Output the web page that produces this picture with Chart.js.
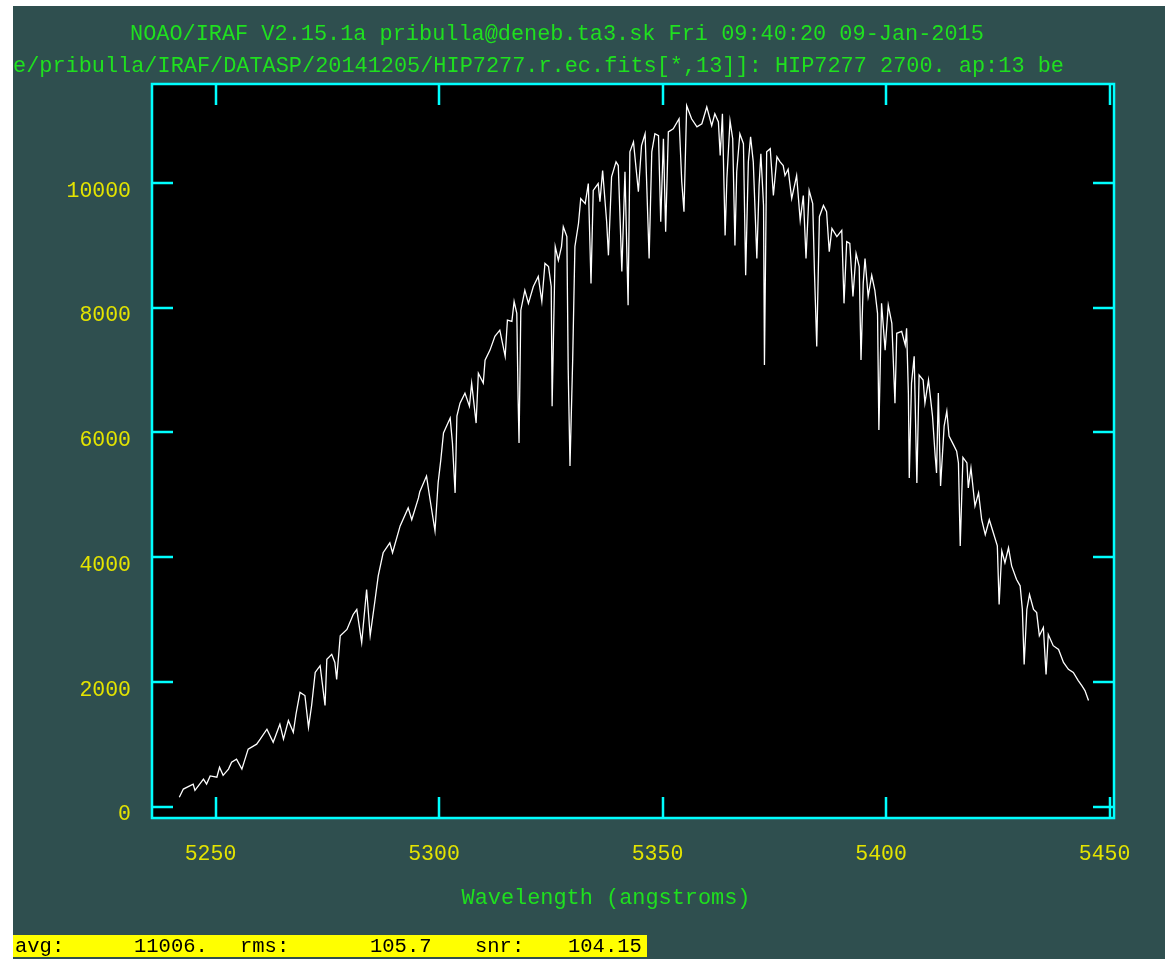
<!DOCTYPE html>
<html><head><meta charset="utf-8">
<script src="https://cdn.jsdelivr.net/npm/chart.js@4/dist/chart.umd.min.js"></script>
<style>html,body{margin:0;padding:0;background:#fff;overflow:hidden}canvas{display:block}</style>
</head><body>
<canvas id="c" width="1165" height="959"></canvas>
<script>
const wavelengths = [
5241.9,5242.8,5245.0,5245.4,5247.3,5248.0,5248.8,5250.3,5250.9,5251.7,
5252.9,5253.6,5254.7,5255.9,5257.3,5259.2,5260.0,5261.5,5262.9,5264.4,
5265.2,5266.3,5267.4,5268.0,5268.9,5270.0,5270.8,5271.5,5272.3,5273.4,
5274.5,5274.9,5276.0,5276.7,5277.1,5277.9,5279.4,5280.8,5281.6,5282.7,
5283.8,5284.6,5285.7,5286.4,5287.5,5289.0,5289.6,5291.3,5293.1,5293.9,
5295.4,5295.7,5297.2,5298.0,5299.1,5299.8,5300.4,5301.0,5302.5,5303.0,
5303.6,5304.0,5304.7,5305.8,5306.8,5307.3,5308.3,5308.8,5309.9,5310.3,
5311.4,5312.5,5313.6,5314.8,5315.3,5316.3,5316.8,5317.4,5317.7,5317.9,
5318.3,5319.2,5320.0,5321.1,5322.2,5323.0,5323.7,5324.5,5325.1,5325.3,
5326.0,5326.7,5327.4,5327.8,5328.6,5328.9,5329.3,5329.9,5330.4,5331.2,
5331.7,5332.7,5333.4,5334.0,5334.5,5335.6,5336.0,5336.6,5337.5,5337.9,
5338.6,5339.6,5340.1,5340.9,5341.6,5342.3,5342.7,5343.5,5344.6,5345.3,
5346.1,5347.0,5347.6,5348.3,5349.1,5349.6,5350.2,5350.7,5351.3,5352.4,
5353.7,5354.3,5354.8,5355.4,5356.5,5357.7,5358.8,5359.9,5361.0,5361.7,
5362.5,5362.9,5363.4,5364.0,5364.4,5365.1,5365.7,5366.2,5366.6,5367.3,
5368.1,5368.6,5369.2,5369.7,5370.3,5371.1,5371.6,5372.0,5372.6,5372.8,
5373.3,5374.1,5374.8,5375.6,5376.3,5377.0,5377.4,5378.1,5378.9,5380.0,
5380.8,5381.5,5382.1,5382.8,5383.6,5384.0,5384.5,5385.1,5386.0,5386.7,
5387.3,5387.9,5389.0,5390.1,5390.6,5391.2,5391.9,5392.6,5393.3,5394.0,
5394.4,5394.9,5395.3,5396.0,5396.8,5397.5,5398.1,5398.4,5399.0,5399.8,
5400.5,5401.3,5402.0,5402.4,5403.5,5404.3,5404.6,5405.0,5405.2,5405.7,
5406.3,5406.9,5407.4,5408.3,5408.7,5409.5,5410.4,5411.0,5411.3,5411.7,
5412.2,5413.0,5413.6,5414.1,5415.1,5415.8,5416.2,5416.6,5417.2,5418.1,
5418.4,5419.0,5419.9,5420.7,5421.4,5422.2,5423.1,5424.0,5424.9,5425.3,
5425.9,5426.6,5427.4,5428.1,5429.2,5430.0,5430.5,5430.9,5431.5,5432.1,
5433.0,5433.7,5434.3,5435.2,5435.8,5436.3,5437.4,5438.6,5439.7,5440.8,
5441.9,5443.0,5443.8,5444.5,5445.3
];
const fluxes = [
150,280,360,260,440,360,490,470,630,500,
600,710,760,600,920,1000,1080,1240,1030,1320,
1080,1380,1190,1480,1830,1780,1270,1620,2150,2260,
1620,2360,2440,2310,2040,2740,2840,3080,3160,2630,
3480,2740,3320,3700,4070,4230,4070,4500,4790,4600,
4950,5050,5300,4920,4420,5190,5560,5990,6230,5830,
5030,6260,6470,6630,6420,6790,6150,6950,6790,7160,
7320,7540,7640,7220,7800,7780,8100,7910,6520,5830,
7960,8280,8070,8340,8500,8100,8710,8660,8340,6420,
8980,8760,8980,9300,9140,7000,5460,7160,8980,9350,
9750,9670,9990,8390,9880,9990,9700,10200,9380,8840,
10100,10340,10280,8580,10180,8040,10500,10660,9860,10600,
10790,8790,10500,10790,10760,9380,10710,9220,10820,10870,
11030,10020,9540,11240,11030,10900,10950,11220,10920,11110,
10980,10440,11110,9160,10070,11000,10710,9000,10180,10790,
10630,8520,10340,10740,10340,8790,9960,10470,9640,7080,
10500,10550,9800,10420,10340,10280,10120,10220,9750,10120,
9400,9800,8790,9880,9670,8550,7380,9460,9640,9540,
8900,9270,9140,9240,8070,9060,9030,8180,8870,8660,
7160,8390,8790,8180,8520,8280,7910,6040,8070,7320,
8040,7750,6470,7590,7620,7400,7670,6630,5270,6790,
7220,5190,6920,6840,6470,6840,6260,5620,5350,6630,
5140,6100,6340,5940,5800,5700,5510,4180,5600,5510,
5110,5430,4820,5030,4600,4360,4600,4390,4180,3240,
4100,3910,4150,3860,3640,3540,3160,2280,3160,3400,
3160,3110,2740,2870,2120,2760,2580,2520,2310,2200,
2150,2020,1940,1860,1700
];
const xTicks = [5250, 5300, 5350, 5400, 5450];
const yTicks = [0, 2000, 4000, 6000, 8000, 10000];
const titleLines = [
  "NOAO/IRAF V2.15.1a pribulla@deneb.ta3.sk Fri 09:40:20 09-Jan-2015",
  "e/pribulla/IRAF/DATASP/20141205/HIP7277.r.ec.fits[*,13]]: HIP7277 2700. ap:13 be"
];
const xAxisTitle = "Wavelength (angstroms)";
const statusLabels = ["avg:", "rms:", "snr:"];
const statusValues = ["11006.", "105.7", "104.15"];

const MONO = "'Liberation Mono', 'DejaVu Sans Mono', monospace";
const CYAN = '#00ffff', GREEN = '#1fe01f', YELLOW = '#e4e400', BG = '#2f4f4f';

const bgPlugin = {
  id: 'irafBg',
  beforeDraw(chart) {
    const ctx = chart.ctx, a = chart.chartArea;
    ctx.save();
    ctx.fillStyle = '#ffffff';
    ctx.fillRect(0, 0, chart.width, chart.height);
    ctx.fillStyle = BG;
    ctx.fillRect(13, 6, chart.width - 13, chart.height - 6);
    ctx.fillStyle = '#000000';
    ctx.fillRect(a.left, a.top, a.right - a.left, a.bottom - a.top);
    ctx.restore();
  }
};

const framePlugin = {
  id: 'irafFrame',
  afterDatasetsDraw(chart) {
    const ctx = chart.ctx, a = chart.chartArea;
    const xs = chart.scales.x, ys = chart.scales.y;
    const TL = 21;
    ctx.save();
    ctx.strokeStyle = CYAN;
    ctx.lineWidth = 2.5;
    ctx.strokeRect(a.left, a.top, a.right - a.left, a.bottom - a.top);
    ctx.beginPath();
    xs.ticks.forEach(t => {
      const px = Math.round(xs.getPixelForValue(t.value));
      ctx.moveTo(px, a.bottom); ctx.lineTo(px, a.bottom - TL);
      ctx.moveTo(px, a.top); ctx.lineTo(px, a.top + TL);
    });
    ys.ticks.forEach(t => {
      const py = Math.round(ys.getPixelForValue(t.value));
      ctx.moveTo(a.left, py); ctx.lineTo(a.left + TL, py);
      ctx.moveTo(a.right, py); ctx.lineTo(a.right - TL, py);
    });
    ctx.stroke();
    ctx.restore();
  }
};

const textPlugin = {
  id: 'irafText',
  afterDraw(chart) {
    const ctx = chart.ctx;
    ctx.save();
    ctx.font = "21.9px " + MONO;
    ctx.fillStyle = GREEN;
    ctx.textBaseline = 'middle';
    ctx.textAlign = 'left';
    ctx.fillText(titleLines[0], 130, 34);
    ctx.fillText(titleLines[1], 13, 66);
    ctx.textAlign = 'center';
    ctx.fillText(xAxisTitle, 606, 898);
    // status bar
    ctx.fillStyle = '#ffff00';
    ctx.fillRect(13, 935, 634, 22);
    ctx.fillStyle = '#000000';
    ctx.font = "20.5px " + MONO;
    ctx.textAlign = 'left';
    const lx = [15, 240, 475], vx = [134, 370, 568];
    statusLabels.forEach((s, i) => ctx.fillText(s, lx[i], 947));
    statusValues.forEach((s, i) => ctx.fillText(s, vx[i], 947));
    ctx.restore();
  }
};

new Chart(document.getElementById('c'), {
  type: 'line',
  data: {
    datasets: [{
      data: wavelengths.map((w, i) => ({ x: w, y: fluxes[i] })),
      borderColor: '#ffffff',
      borderWidth: 1.3,
      pointRadius: 0,
      tension: 0,
      fill: false
    }]
  },
  options: {
    responsive: false,
    animation: false,
    devicePixelRatio: 1,
    layout: { padding: { left: 0, top: 84, right: 51, bottom: 0 } },
    plugins: { legend: { display: false }, tooltip: { enabled: false }, title: { display: false } },
    scales: {
      x: {
        type: 'linear',
        min: 5235.79,
        max: 5451.0,
        grid: { display: false, drawTicks: false },
        border: { display: false },
        afterBuildTicks: s => { s.ticks = xTicks.map(v => ({ value: v })); },
        afterFit: s => { s.height = 141; s.paddingLeft = 0; s.paddingRight = 0; },
        ticks: {
          color: YELLOW,
          font: { family: MONO, size: 21.5 },
          padding: 23,
          labelOffset: -5,
          maxRotation: 0,
          autoSkip: false,
          callback: v => String(v)
        }
      },
      y: {
        type: 'linear',
        min: -184,
        max: 11588,
        grid: { display: false, drawTicks: false },
        border: { display: false },
        afterBuildTicks: s => { s.ticks = yTicks.map(v => ({ value: v })); },
        afterFit: s => { s.width = 152; s.paddingTop = 0; s.paddingBottom = 0; },
        ticks: {
          color: YELLOW,
          font: { family: MONO, size: 21.5 },
          padding: 21,
          labelOffset: 8,
          autoSkip: false,
          callback: v => String(v)
        }
      }
    }
  },
  plugins: [bgPlugin, framePlugin, textPlugin]
});
</script>
</body></html>
